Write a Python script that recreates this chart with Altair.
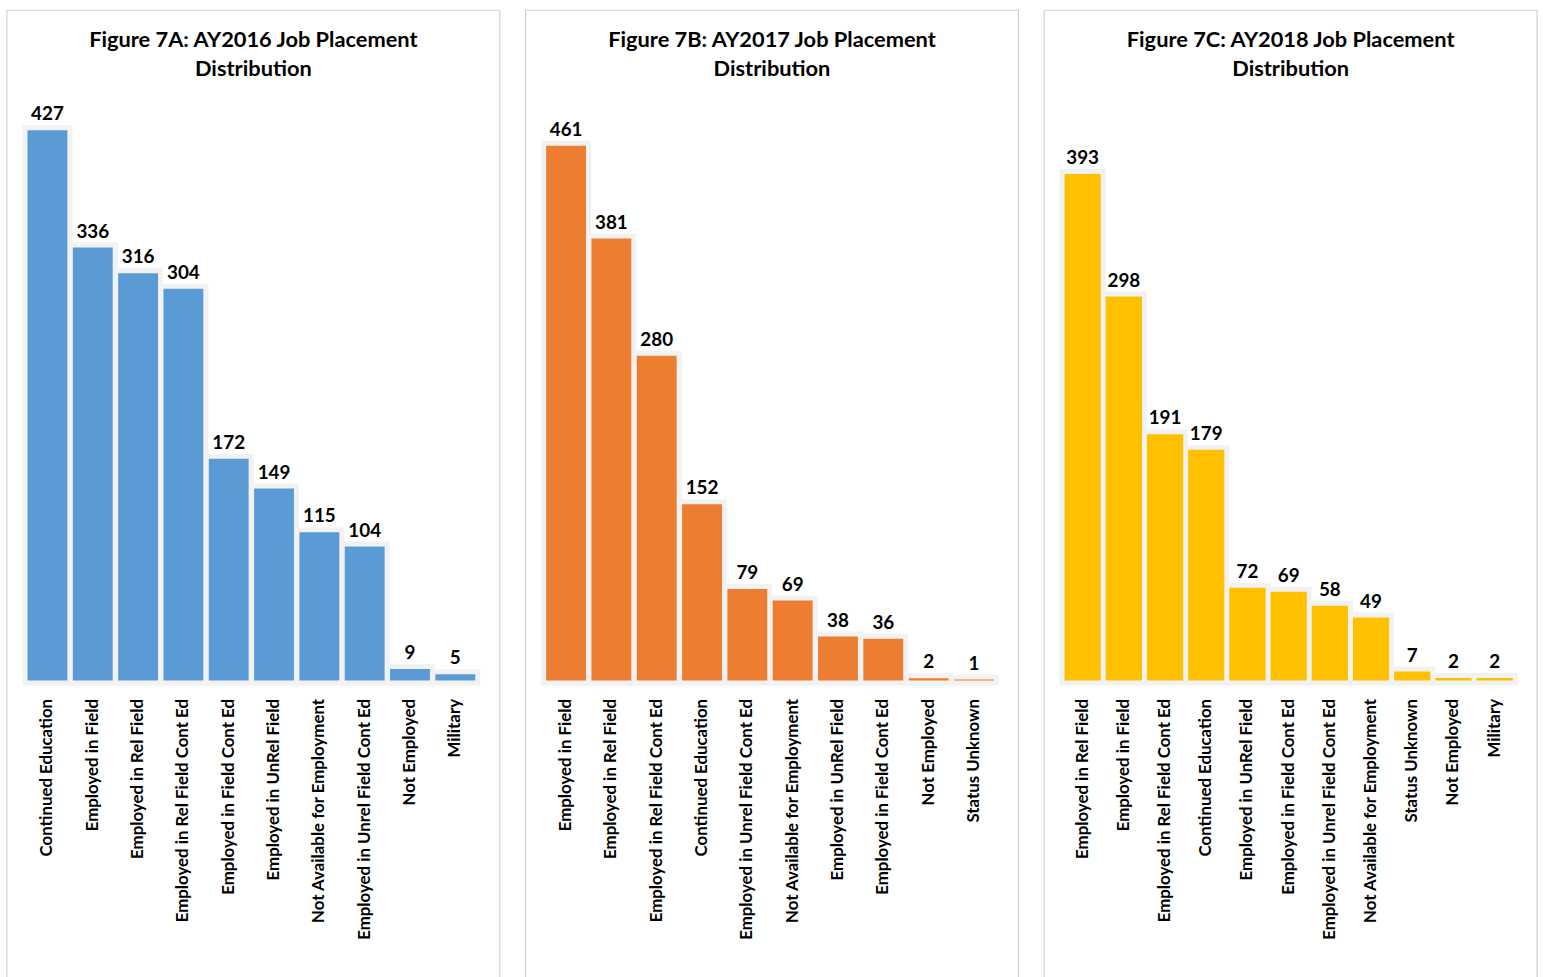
import altair as alt
import pandas as pd

FONT = "Lato"

cats_a = ["Continued Education", "Employed in Field", "Employed in Rel Field",
          "Employed in Rel Field Cont Ed", "Employed in Field Cont Ed",
          "Employed in UnRel Field", "Not Available for Employment",
          "Employed in Unrel Field Cont Ed", "Not Employed", "Military"]
vals_a = [427, 336, 316, 304, 172, 149, 115, 104, 9, 5]

cats_b = ["Employed in Field", "Employed in Rel Field", "Employed in Rel Field Cont Ed",
          "Continued Education", "Employed in Unrel Field Cont Ed",
          "Not Available for Employment", "Employed in UnRel Field",
          "Employed in Field Cont Ed", "Not Employed", "Status Unknown"]
vals_b = [461, 381, 280, 152, 79, 69, 38, 36, 2, 1]

cats_c = ["Employed in Rel Field", "Employed in Field", "Employed in Rel Field Cont Ed",
          "Continued Education", "Employed in UnRel Field", "Employed in Field Cont Ed",
          "Employed in Unrel Field Cont Ed", "Not Available for Employment",
          "Status Unknown", "Not Employed", "Military"]
vals_c = [393, 298, 191, 179, 72, 69, 58, 49, 7, 2, 2]

titles = ["Figure 7A: AY2016 Job Placement\nDistribution",
          "Figure 7B: AY2017 Job Placement\nDistribution",
          "Figure 7C: AY2018 Job Placement\nDistribution"]
colors = ["#5B9BD5", "#ED7D31", "#FFC000"]
ymax = [450, 500, 450]

W = 457
H = 585


def panel(cats, vals, color, dmax, title):
    df = pd.DataFrame({"cat": cats, "val": vals})
    one = pd.DataFrame({"k": [0]})
    x = alt.X("cat:N", sort=cats, title=None,
              scale=alt.Scale(paddingInner=0.12, paddingOuter=0.06),
              axis=alt.Axis(labelAngle=-90, labelFont=FONT, labelFontWeight="bold",
                            labelFontSize=17, labelColor="#000000", labelPadding=18,
                            ticks=False, domainColor="#D9D9D9", domainWidth=2.5,
                            labelLimit=400))
    y = alt.Y("val:Q", scale=alt.Scale(domain=[0, dmax], nice=False), axis=None)

    frame = alt.Chart(one).mark_rect(fillOpacity=0, stroke="#D0D0D0", strokeWidth=1.2).encode(
        x=alt.value(-18), x2=alt.value(W + 22), y=alt.value(-91), y2=alt.value(H + 340))
    shadow = alt.Chart(df).mark_bar(color="#F2F2F2", stroke="#F2F2F2", strokeWidth=10,
                                    strokeJoin="miter").encode(x=x, y=y)
    bars = alt.Chart(df).mark_bar(color=color).encode(x=x, y=y)
    labels = alt.Chart(df).mark_text(baseline="bottom", dy=-6, font=FONT, fontWeight="bold",
                                     fontSize=19, color="#000000").encode(
        x=x, y=y, text="val:Q")
    ttl = alt.Chart(one).mark_text(lineBreak="\n", baseline="top", align="center", font=FONT,
                                   fontWeight="bold", fontSize=22, lineHeight=29,
                                   color="#000000").encode(
        x=alt.value((W + 4) / 2), y=alt.value(-71), text=alt.value(title))
    return alt.layer(frame, shadow, bars, labels, ttl).properties(width=W, height=H)


chart = alt.hconcat(
    panel(cats_a, vals_a, colors[0], ymax[0], titles[0]),
    panel(cats_b, vals_b, colors[1], ymax[1], titles[1]),
    panel(cats_c, vals_c, colors[2], ymax[2], titles[2]),
    spacing=24,
).properties(
    padding={"left": 6, "top": 5, "right": 5, "bottom": 5},
    background="white",
).configure_view(stroke=None)

chart.save("out.html", embed_options={"renderer": "svg", "actions": False})
